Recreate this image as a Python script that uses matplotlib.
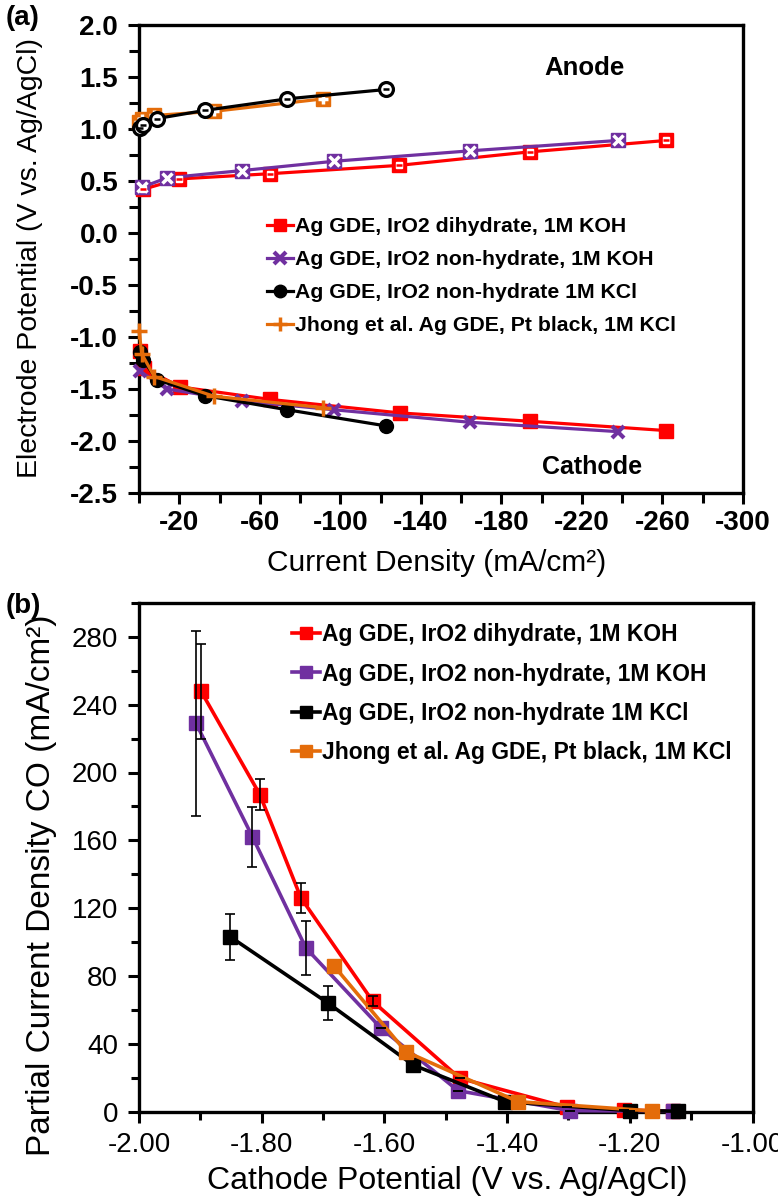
import matplotlib
matplotlib.use("Agg")
import matplotlib.pyplot as plt
import numpy as np
from matplotlib.ticker import FixedLocator, MultipleLocator, FormatStrFormatter

plt.rcParams['font.family'] = ['Liberation Sans', 'DejaVu Sans']

# ---------------- Panel (a) data ----------------
labels = ["Ag GDE, IrO2 dihydrate, 1M KOH",
          "Ag GDE, IrO2 non-hydrate, 1M KOH",
          "Ag GDE, IrO2 non-hydrate 1M KCl",
          "Jhong et al. Ag GDE, Pt black, 1M KCl"]
colors = ["#FF0000", "#7030A0", "#000000", "#E46C0A"]

red_i_an = [-2, -20, -65, -129, -194, -262]
red_v_an = [0.42, 0.52, 0.57, 0.65, 0.78, 0.89]
red_i_ca = [-0.5, -2.5, -20.5, -65, -129.5, -194, -262]
red_v_ca = [-1.13, -1.30, -1.48, -1.60, -1.73, -1.81, -1.90]

pur_i_an = [-1.5, -13.8, -51, -97, -164.4, -238]
pur_v_an = [0.44, 0.53, 0.60, 0.69, 0.79, 0.89]
pur_i_ca = [-0.5, -13.8, -51, -97, -164.4, -238]
pur_v_ca = [-1.33, -1.50, -1.615, -1.70, -1.82, -1.91]

blk_i_an = [-0.5, -2.1, -8.8, -33, -73.7, -122.7]
blk_v_an = [1.01, 1.04, 1.10, 1.18, 1.29, 1.38]
blk_i_ca = [-0.5, -2.1, -8.8, -33, -73.7, -122.7]
blk_v_ca = [-1.14, -1.22, -1.41, -1.565, -1.70, -1.855]

org_i_an = [-0.15, -1.3, -7.6, -37.3, -91.6]
org_v_an = [1.07, 1.10, 1.13, 1.17, 1.29]
org_i_ca = [-0.15, -1.3, -7.6, -37.3, -91.6]
org_v_ca = [-0.94, -1.16, -1.38, -1.57, -1.68]

# ---------------- Panel (b) data ----------------
red_e = [-1.899, -1.803, -1.736, -1.619, -1.477, -1.302, -1.21, -1.13]
red_j = [248, 187, 126, 65, 19.6, 2.5, 0.8, 0.3]
red_err = [28, 9, 9, 3, 0, 0, 0, 0]

pur_e = [-1.907, -1.815, -1.728, -1.605, -1.480, -1.297, -1.130]
pur_j = [229, 162, 96.5, 49, 12.3, 0.5, 0.2]
pur_err = [54.5, 17.5, 16, 0, 0, 0, 0]

blk_e = [-1.851, -1.692, -1.553, -1.403, -1.200, -1.122]
blk_j = [103, 64, 27.4, 5.8, 0.5, 0.2]
blk_err = [13.8, 9.8, 0, 0, 0, 0]

org_e = [-1.682, -1.565, -1.382, -1.163]
org_j = [85.8, 35.3, 5.8, 0.3]

W, H = 778, 1197
fig = plt.figure(figsize=(W / 100, H / 100), dpi=100)

axa = fig.add_axes([139 / W, 1 - 493 / H, 604 / W, 468 / H])
axb = fig.add_axes([139 / W, 1 - 1111.5 / H, 613.5 / W, 508.5 / H])

lw_a = 2.3
ms_a = 10

# anode (hollow-looking markers)
axa.plot(red_i_an, red_v_an, '-', color=colors[0], lw=lw_a, marker='s', ms=ms_a,
         mfc=colors[0], mec=colors[0], zorder=3, clip_on=False)
axa.plot(red_i_an, red_v_an, ' ', marker='s', ms=5, mfc='white', mec='white', zorder=4, clip_on=False)
axa.plot(red_i_an, red_v_an, ' ', marker='_', ms=5, mew=1.8, mec=colors[0], zorder=5, clip_on=False)

axa.plot(pur_i_an, pur_v_an, '-', color=colors[1], lw=lw_a, marker='s', ms=ms_a,
         mfc=colors[1], mec=colors[1], zorder=3, clip_on=False)
axa.plot(pur_i_an, pur_v_an, ' ', marker='x', ms=7, mew=2.5, mec='white', zorder=4, clip_on=False)

axa.plot(org_i_an, org_v_an, '-', color=colors[3], lw=lw_a, marker='s', ms=ms_a,
         mfc=colors[3], mec=colors[3], zorder=3, clip_on=False)
axa.plot(org_i_an, org_v_an, ' ', marker='+', ms=7, mew=2.5, mec='white', zorder=4, clip_on=False)

axa.plot(blk_i_an, blk_v_an, '-', color=colors[2], lw=lw_a, marker='o', ms=ms_a,
         mfc='white', mec=colors[2], mew=2.3, zorder=6, clip_on=False)
axa.plot(blk_i_an, blk_v_an, ' ', marker='_', ms=5, mew=1.8, mec=colors[2], zorder=7, clip_on=False)

# cathode
h1, = axa.plot(red_i_ca, red_v_ca, '-', color=colors[0], lw=lw_a, marker='s', ms=ms_a,
               mfc=colors[0], mec=colors[0], zorder=3, label=labels[0], clip_on=False)
h2, = axa.plot(pur_i_ca, pur_v_ca, '-', color=colors[1], lw=lw_a, marker='x', ms=9,
               mew=3, mec=colors[1], zorder=4, label=labels[1], clip_on=False)
h3, = axa.plot(blk_i_ca, blk_v_ca, '-', color=colors[2], lw=lw_a, marker='o', ms=ms_a,
               mfc=colors[2], mec=colors[2], zorder=5, label=labels[2], clip_on=False)
h4, = axa.plot(org_i_ca, org_v_ca, '-', color=colors[3], lw=lw_a, marker='+', ms=11,
               mew=2.5, mec=colors[3], zorder=6, label=labels[3], clip_on=False)

axa.set_xlim(0, -300)
axa.set_ylim(-2.5, 2.0)
axa.xaxis.set_major_locator(FixedLocator(np.arange(-20, -301, -40)))
axa.xaxis.set_minor_locator(FixedLocator(np.arange(0, -301, -40)))
axa.xaxis.set_major_formatter(FormatStrFormatter('%d'))
axa.yaxis.set_major_locator(MultipleLocator(0.5))
axa.yaxis.set_minor_locator(MultipleLocator(0.25))
axa.yaxis.set_major_formatter(FormatStrFormatter('%.1f'))
axa.tick_params(axis='both', which='major', direction='out', length=8, width=2.2,
                labelsize=20)
axa.tick_params(axis='both', which='minor', direction='out', length=7, width=2.2)
axa.tick_params(axis='y', which='major', pad=7)
axa.tick_params(axis='x', which='major', pad=4)
for lab in axa.get_xticklabels() + axa.get_yticklabels():
    lab.set_fontweight('bold')
for s in axa.spines.values():
    s.set_linewidth(2.4)

axa.set_xlabel('Current Density (mA/cm²)', fontsize=21.5)
axa.xaxis.label.set_va('center')
axa.xaxis.set_label_coords((437 - 139) / 604, (493 - 563) / 468)
axa.set_ylabel('Electrode Potential (V vs. Ag/AgCl)', fontsize=20.5)
axa.yaxis.label.set_va('center')
axa.yaxis.set_label_coords((30 - 139) / 604, (493 - 258) / 468)

axa.text(0.737, 0.908, 'Anode', transform=axa.transAxes, fontsize=18.5,
         fontweight='bold', ha='center', va='center')
axa.text(0.75, 0.056, 'Cathode', transform=axa.transAxes, fontsize=18,
         fontweight='bold', ha='center', va='center')

leg = axa.legend(handles=[h1, h2, h3, h4], loc='upper left',
                 bbox_to_anchor=((267 - 139) / 604, (493 - 217) / 468),
                 frameon=False, fontsize=15.3, handlelength=1.2, handletextpad=0.12,
                 labelspacing=0.66, borderpad=0, borderaxespad=0, markerscale=0.9)
for t in leg.get_texts():
    t.set_fontweight('bold')

# ---------------- Panel (b) ----------------
lw_b = 2.6
ms_b = 10
series_b = [(red_e, red_j, red_err, colors[0], labels[0]),
            (pur_e, pur_j, pur_err, colors[1], labels[1]),
            (blk_e, blk_j, blk_err, colors[2], labels[2])]
hb = []
for k, (e, j, err, c, lab) in enumerate(series_b):
    h, = axb.plot(e, j, '-', color=c, lw=lw_b, marker='s', ms=ms_b, mfc=c, mec=c,
                  zorder=3 + k, label=lab, clip_on=False)
    hb.append(h)
    axb.errorbar(e, j, yerr=err, fmt='none', ecolor='black', elinewidth=1.2,
                 capsize=3.5, capthick=1.2, zorder=10)
h, = axb.plot(org_e, org_j, '-', color=colors[3], lw=lw_b, marker='s', ms=ms_b,
              mfc=colors[3], mec=colors[3], zorder=7, label=labels[3], clip_on=False)
hb.append(h)

axb.set_xlim(-2.0, -1.0)
axb.set_ylim(0, 300)
axb.xaxis.set_major_locator(MultipleLocator(0.2))
axb.xaxis.set_minor_locator(MultipleLocator(0.1))
axb.xaxis.set_major_formatter(FormatStrFormatter('%.2f'))
axb.yaxis.set_major_locator(FixedLocator(np.arange(0, 281, 40)))
axb.yaxis.set_minor_locator(FixedLocator(np.arange(0, 301, 20)))
axb.tick_params(axis='both', which='major', direction='out', length=8, width=2.2,
                labelsize=20)
axb.tick_params(axis='both', which='minor', direction='out', length=6, width=2.2)
axb.tick_params(axis='y', which='major', pad=7)
axb.tick_params(axis='x', which='major', pad=7)
for s in axb.spines.values():
    s.set_linewidth(2.4)

axb.set_xlabel('Cathode Potential (V vs. Ag/AgCl)', fontsize=23)
axb.xaxis.label.set_va('center')
axb.xaxis.set_label_coords((447 - 139) / 613.5, (1111.5 - 1181) / 508.5)
axb.set_ylabel('Partial Current Density CO (mA/cm²)', fontsize=24)
axb.yaxis.label.set_va('center')
axb.yaxis.set_label_coords((42 - 139) / 613.5, (1111.5 - 885) / 508.5)

legb = axb.legend(handles=hb, loc='upper left',
                  bbox_to_anchor=((292 - 139) / 613.5, (1111.5 - 623) / 508.5),
                  frameon=False, fontsize=16.5, handlelength=1.2, handletextpad=0.12,
                  labelspacing=0.72, borderpad=0, borderaxespad=0, markerscale=0.8)
for t in legb.get_texts():
    t.set_fontweight('bold')

fig.text(6 / W, 1 - 18 / H, '(a)', fontsize=20, fontweight='bold', ha='left', va='center')
fig.text(6 / W, 1 - 606 / H, '(b)', fontsize=20, fontweight='bold', ha='left', va='center')

fig.savefig('out.png', dpi=100)
